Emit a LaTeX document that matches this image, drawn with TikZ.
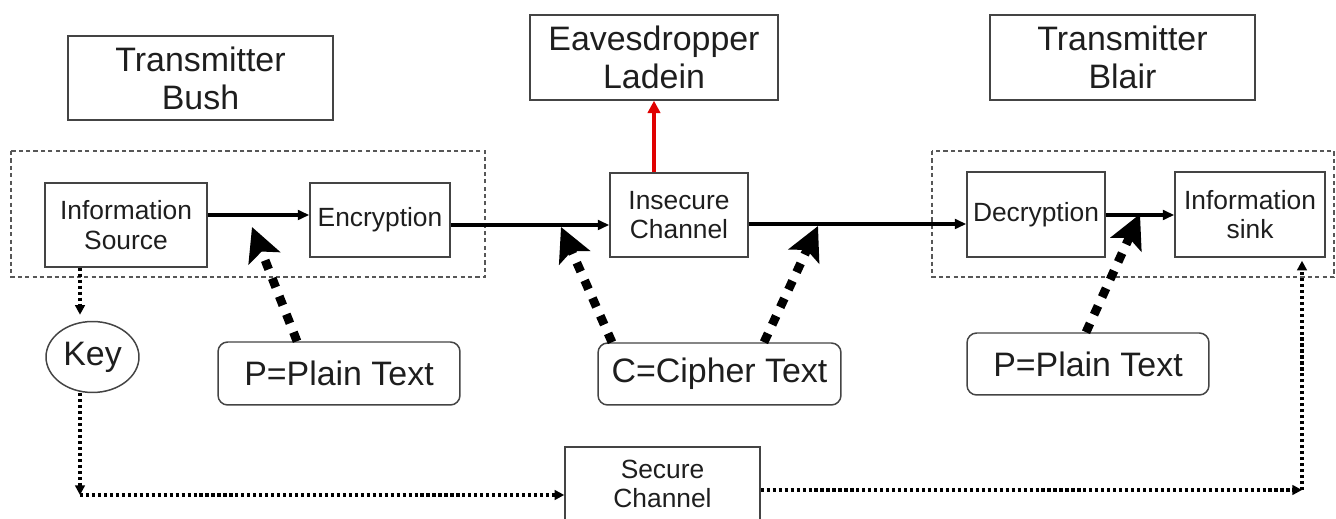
\documentclass[tikz,border=0pt]{standalone}
\usepackage{fontspec}
\setmainfont{Liberation Sans}
\usetikzlibrary{arrows.meta,calc,shapes.geometric}
\definecolor{txt}{HTML}{1E1E1E}
\definecolor{edge}{HTML}{444444}
\definecolor{redline}{HTML}{E00000}
\begin{document}
\begin{tikzpicture}[x=0.02cm,y=-0.02cm,
  box/.style={draw=edge,line width=0.85pt,inner sep=0pt,align=center,text=txt},
  bigtxt/.style={font=\fontsize{19.3}{21.6}\selectfont},
  smalltxt/.style={font=\fontsize{15}{16.8}\selectfont},
  rbox/.style={box,rounded corners=5.5pt,bigtxt},
  group/.style={draw=edge!90,line width=0.6pt,dash pattern=on 2.4pt off 1.8pt},
  mainarrow/.style={line width=2pt,-{Triangle[length=6.5pt,width=5.5pt]}},
  bigarrow/.style={line width=5pt,dash pattern=on 5.5pt off 5.5pt,-{Stealth[length=19pt,width=19pt,inset=4pt]}},
  dotline/.style={line width=2pt,dash pattern=on 1.8pt off 1.6pt},
  dotarrow/.style={dotline,-{Triangle[length=5.5pt,width=5.5pt]}},
  redarrow/.style={draw=redline,line width=2.4pt,-{Triangle[length=7pt,width=7pt]}}
]
\useasboundingbox (0,0) rectangle (1336,519);

% top boxes
\node[box,bigtxt,minimum width=5.3cm,minimum height=1.68cm] (bush) at (200.5,78) {Transmitter\\Bush};
\node[box,bigtxt,minimum width=4.96cm,minimum height=1.7cm] (eve) at (654,57.5) {Eavesdropper\\Ladein};
\node[box,bigtxt,minimum width=5.3cm,minimum height=1.7cm] (blair) at (1122.5,57.5) {Transmitter\\Blair};

% dashed groups
\draw[group] (11,151) rectangle (485,277);
\draw[group] (932,151) rectangle (1334,277);

% middle row
\node[box,smalltxt,minimum width=3.24cm,minimum height=1.68cm] (src) at (126,225) {Information\\Source};
\node[box,smalltxt,minimum width=2.8cm,minimum height=1.48cm] (enc) at (380,220) {Encryption};
\node[box,smalltxt,minimum width=2.76cm,minimum height=1.68cm] (insec) at (679,215) {Insecure\\Channel};
\node[box,smalltxt,minimum width=2.76cm,minimum height=1.7cm] (dec) at (1036,214.5) {Decryption};
\node[box,smalltxt,minimum width=3.0cm,minimum height=1.7cm] (sink) at (1250,214.5) {Information\\sink};

% lower row
\node[box,ellipse,bigtxt,minimum width=1.86cm,minimum height=1.42cm] (key) at (92.5,357) {Key};
\node[rbox,minimum width=4.84cm,minimum height=1.26cm] (p1) at (339,373.5) {P=Plain Text};
\node[rbox,minimum width=4.86cm,minimum height=1.24cm] (ct) at (719.5,374) {C=Cipher Text};
\node[rbox,minimum width=4.84cm,minimum height=1.24cm] (p2) at (1088,364) {P=Plain Text};
\node[box,smalltxt,minimum width=3.9cm,minimum height=1.48cm] (sec) at (662.5,484) {Secure\\Channel};

% main flow
\draw[mainarrow] ([yshift=0.2cm]src.east) -- ([yshift=0.2cm]src.east -| enc.west);
\draw[mainarrow] (enc.east |- 0,225) -- (insec.west |- 0,225);
\draw[mainarrow] (insec.east |- 0,224) -- (dec.west |- 0,224);
\draw[mainarrow] (dec.east |- 0,215) -- (sink.west |- 0,215);

% eavesdropper
\draw[redarrow] (eve.south |- insec.north) -- (eve.south);

% big dashed arrows
\coordinate (t1) at (252,227);
\coordinate (t2) at (561,227);
\coordinate (t3) at (818,226);
\coordinate (t4) at (1140,214);
\draw[bigarrow] (p1.north -| 297,0) -- (t1);
\draw[bigarrow] (ct.north -| 612,0) -- (t2);
\draw[bigarrow] (ct.north -| 764,0) -- (t3);
\draw[bigarrow] (p2.north -| 1086,0) -- (t4);

% key distribution
\coordinate (kb) at (80,495);
\coordinate (sr) at (1302,490);
\draw[dotarrow] (src.south -| kb) -- ([yshift=0.12cm]key.north -| kb);
\draw[dotarrow] (key.south -| kb) -- (kb);
\draw[dotarrow] (kb) -- (kb -| sec.west);
\draw[dotarrow] (sec.east |- sr) -- (sr);
\draw[dotarrow] (sr) -- ([yshift=-0.06cm]sr |- sink.south);
\end{tikzpicture}
\end{document}
